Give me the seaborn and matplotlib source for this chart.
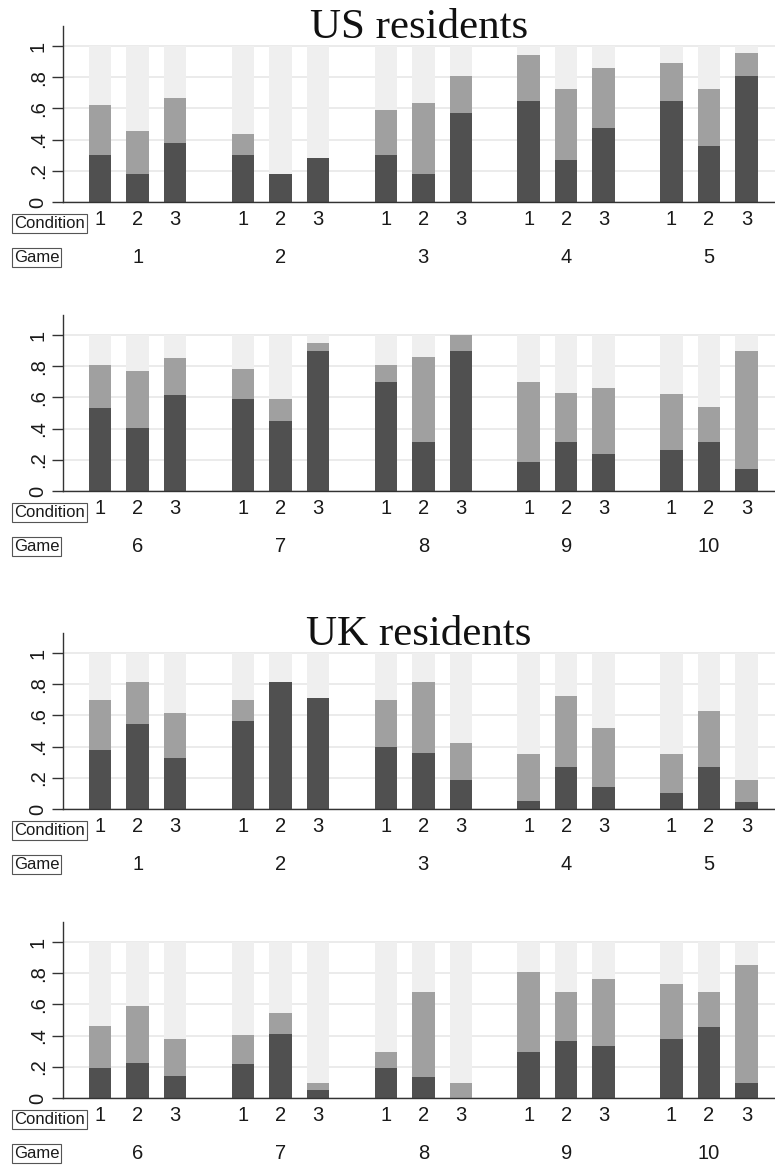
import matplotlib
matplotlib.use("Agg")
import matplotlib.pyplot as plt
import matplotlib.transforms as mtransforms
import pandas as pd
import seaborn as sns

# ---------------- data (shares of the three outcomes, light = remainder to 1) ----
conditions = [1, 2, 3]
games_top = [1, 2, 3, 4, 5]
games_bottom = [6, 7, 8, 9, 10]
ytick_vals = [0, 0.2, 0.4, 0.6, 0.8, 1.0]
ytick_labels = ["0", ".2", ".4", ".6", ".8", "1"]

# US residents, games 1-10, conditions 1-3 per game
us_dark = [0.30, 0.18, 0.38, 0.30, 0.18, 0.28, 0.30, 0.18, 0.57, 0.65, 0.27, 0.475,
           0.65, 0.36, 0.81, 0.535, 0.405, 0.615, 0.59, 0.45, 0.90, 0.70, 0.315, 0.90,
           0.185, 0.315, 0.235, 0.265, 0.315, 0.14]
us_medium = [0.32, 0.275, 0.285, 0.135, 0.0, 0.0, 0.29, 0.455, 0.24, 0.295, 0.455, 0.385,
             0.24, 0.365, 0.145, 0.275, 0.365, 0.24, 0.19, 0.14, 0.05, 0.11, 0.545, 0.10,
             0.515, 0.315, 0.425, 0.355, 0.225, 0.76]

# UK residents
uk_dark = [0.375, 0.545, 0.33, 0.565, 0.815, 0.71, 0.40, 0.36, 0.185, 0.05, 0.27, 0.14,
           0.105, 0.27, 0.045, 0.19, 0.225, 0.14, 0.215, 0.41, 0.05, 0.19, 0.135, 0.0,
           0.295, 0.365, 0.335, 0.38, 0.455, 0.095]
uk_medium = [0.325, 0.27, 0.285, 0.135, 0.0, 0.0, 0.30, 0.455, 0.24, 0.30, 0.455, 0.38,
             0.245, 0.36, 0.14, 0.27, 0.365, 0.24, 0.19, 0.135, 0.045, 0.105, 0.545, 0.095,
             0.515, 0.315, 0.425, 0.35, 0.225, 0.76]

# ---------------- style ----------------
DARK = "#505050"
MID = "#a0a0a0"
LIGHT = "#efefef"
AXC = "#333333"
TXT = "#1a1a1a"
GROUP_STEP = 3.81

sns.set_theme(style="white")
plt.rcParams["font.family"] = ["Liberation Sans", "DejaVu Sans"]

W, H = 775, 1167
fig = plt.figure(figsize=(W / 100, H / 100), dpi=100)
fig.patch.set_facecolor("white")


def px_axes(top, bottom, left=63, right=775):
    return fig.add_axes([left / W, 1 - bottom / H, (right - left) / W, (bottom - top) / H])


def draw_panel(ax, games, dark, medium, offset):
    rows = []
    for gi, g in enumerate(games):
        for ci, c in enumerate(conditions):
            k = offset + gi * 3 + ci
            rows.append(dict(game=g, cond=c, pos=gi * GROUP_STEP + ci,
                             dark=dark[k], mid=dark[k] + medium[k], full=1.0))
    df = pd.DataFrame(rows)
    ax.set_axisbelow(True)
    ax.yaxis.grid(True, color="#ebebeb", lw=1.4)
    ax.xaxis.grid(False)
    for col, colr in [("full", LIGHT), ("mid", MID), ("dark", DARK)]:
        sns.barplot(data=df, x="pos", y=col, native_scale=True, width=0.6,
                    color=colr, saturation=1, errorbar=None, ax=ax, linewidth=0)
    ax.set_xlim(-0.99, 18.0)
    ax.set_ylim(0, 1.128)
    ax.set_xlabel("")
    ax.set_ylabel("")
    ax.set_yticks(ytick_vals)
    ax.set_yticklabels(ytick_labels, rotation=90, va="center")
    ax.tick_params(axis="y", length=8, width=1, color=AXC, pad=3, labelsize=14.5,
                   labelcolor=TXT, left=True)
    ax.set_xticks(df["pos"].tolist())
    ax.set_xticklabels([str(c) for c in df["cond"]])
    ax.tick_params(axis="x", length=0, pad=6, labelsize=14.5, labelcolor=TXT)
    for s in ["top", "right"]:
        ax.spines[s].set_visible(False)
    for s in ["left", "bottom"]:
        ax.spines[s].set_visible(True)
        ax.spines[s].set_color(AXC)
        ax.spines[s].set_linewidth(1.0)
    trans = mtransforms.blended_transform_factory(ax.transData, ax.transAxes)
    for gi, g in enumerate(games):
        ax.text(gi * GROUP_STEP + 1, -0.318, str(g), transform=trans, ha="center",
                va="center", fontsize=14.5, color=TXT)
    box = dict(boxstyle="square,pad=0.12", fc="white", ec="#555555", lw=0.8)
    xl = (14 - 63) / (775 - 63)
    ax.text(xl, -0.122, "Condition", transform=ax.transAxes, ha="left", va="center",
            fontsize=12, color=TXT, bbox=box)
    ax.text(xl, -0.318, "Game", transform=ax.transAxes, ha="left", va="center",
            fontsize=12, color=TXT, bbox=box)


ax1 = px_axes(26, 202)
draw_panel(ax1, games_top, us_dark, us_medium, 0)
ax2 = px_axes(315, 491)
draw_panel(ax2, games_bottom, us_dark, us_medium, 15)
ax3 = px_axes(633, 809)
draw_panel(ax3, games_top, uk_dark, uk_medium, 0)
ax4 = px_axes(922, 1098)
draw_panel(ax4, games_bottom, uk_dark, uk_medium, 15)

cx = (63 + 775) / 2 / W
fig.text(cx, 1 - 38 / H, "US residents", ha="center", va="baseline",
         family=["Liberation Serif", "DejaVu Serif"], fontsize=31, color="#111111")
fig.text(cx, 1 - 645 / H, "UK residents", ha="center", va="baseline",
         family=["Liberation Serif", "DejaVu Serif"], fontsize=31, color="#111111")

fig.savefig("out.png", dpi=100, facecolor="white")
